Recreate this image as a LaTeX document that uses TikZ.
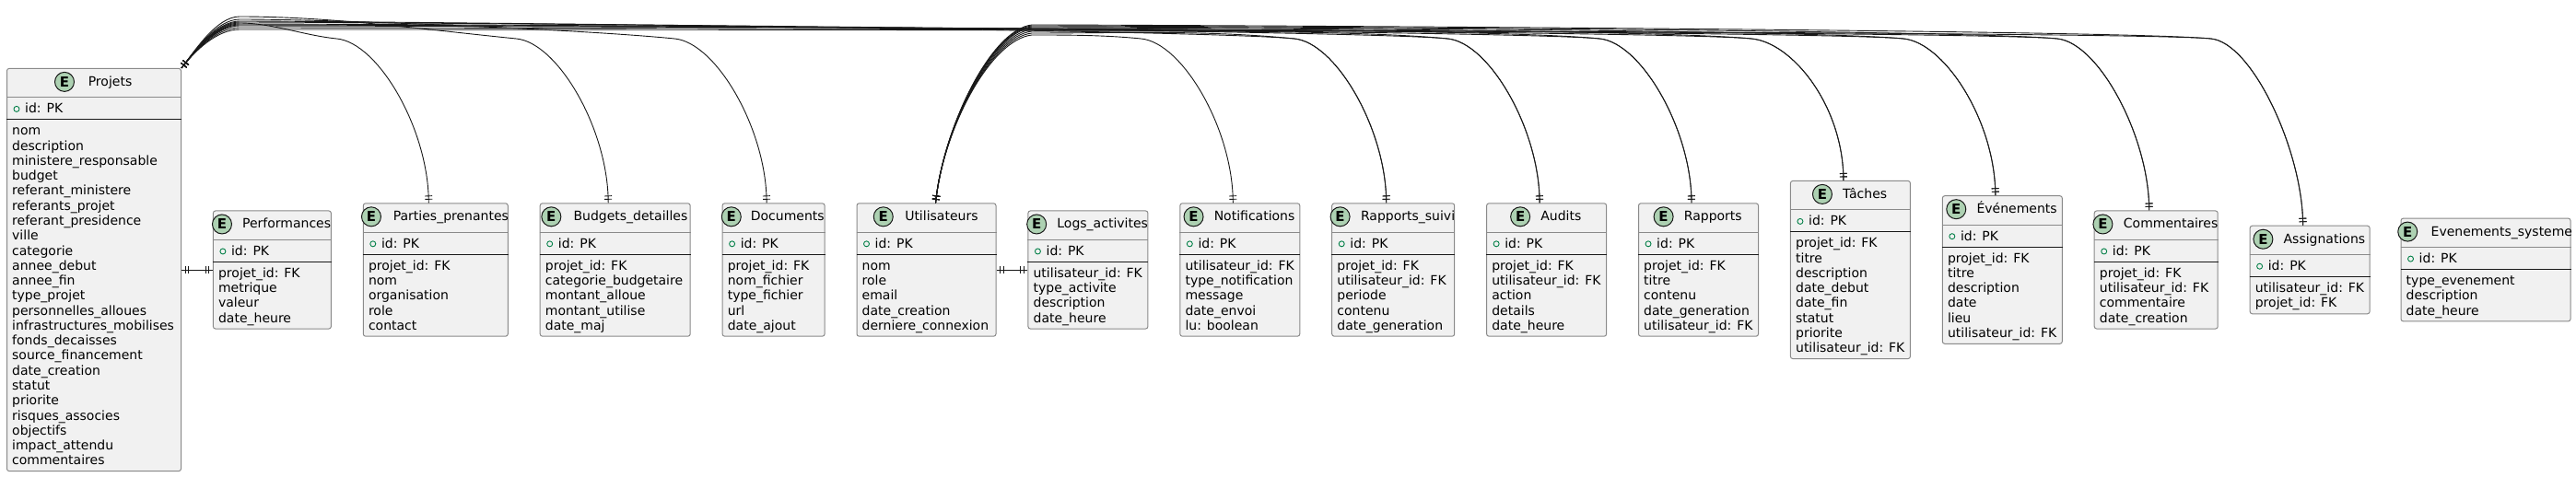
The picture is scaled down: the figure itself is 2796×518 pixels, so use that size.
\documentclass[tikz,border=0pt]{standalone}
\usepackage{fontspec}
\setmainfont{DejaVu Sans}
\usetikzlibrary{calc,decorations.markings}
\definecolor{boxfill}{HTML}{F1F1F1}
\definecolor{boxline}{HTML}{8A8A8A}
\definecolor{ink}{HTML}{181818}
\definecolor{ecirc}{HTML}{ADD1B2}
\definecolor{pkgreen}{HTML}{038048}
\newlength\etw
\tikzset{
  ebox/.style={draw=boxline, fill=boxfill, rounded corners=2.5pt, line width=1pt, inner sep=0pt},
  hsep/.style={draw=boxline, line width=1pt},
  isep/.style={draw=ink, line width=1pt},
  attr/.style={inner sep=0pt, font=\fontsize{14pt}{16.27pt}\selectfont, text=black},
  etitle/.style={inner sep=0pt, font=\fontsize{14pt}{16.27pt}\selectfont, text=black},
  ecircle/.style={circle, draw=ink, fill=ecirc, minimum size=21pt, inner sep=0pt, line width=1pt,
    font=\bfseries\fontsize{15pt}{15pt}\selectfont},
  pkdot/.style={circle, draw=pkgreen, minimum size=6pt, inner sep=0pt, line width=0.9pt},
  tickmark/.style={draw=ink, line width=0.9pt},
  rel/.style={draw=ink, line width=0.9pt, postaction={decorate, decoration={markings,
    mark=at position 4pt with {\draw[tickmark] (0,-4)--(0,4);},
    mark=at position 7.5pt with {\draw[tickmark] (0,-4)--(0,4);},
    mark=at position -4pt with {\draw[tickmark] (0,-4)--(0,4);},
    mark=at position -7.5pt with {\draw[tickmark] (0,-4)--(0,4);}}}},
}
\newcommand\entity[6]{%
  \settowidth\etw{\fontsize{14pt}{16.27pt}\selectfont #5}%
  \pgfmathsetmacro\ew{max(#3,\etw+31)}%
  \pgfmathsetmacro\eh{63+16.27*#4}%
  \pgfmathsetmacro\etop{292.5-\eh/2}%
  \node[ebox, minimum width=\ew pt, minimum height=\eh pt, anchor=north west] (#1) at (#2,\etop) {};
  \draw[hsep] ($(#1.north west)+(0,32)$) -- ($(#1.north east)+(0,32)$);
  \draw[isep] ($(#1.north west)+(0,56)$) -- ($(#1.north east)+(0,56)$);
  \pgfmathsetmacro\egap{5+0.06*(\ew-21-\etw)}%
  \node[etitle, anchor=base] (#1-t) at ({#2+\ew/2+(21+\egap)/2},{\etop+19.5}) {#5};
  \node[ecircle] (#1-c) at ($(#1-t.west |- #1.north)+({-\egap-10.5},15)$) {E};
  \node[pkdot] (#1-pk) at ({#2+11},{\etop+44.5}) {};
  \node[attr, anchor=base west] (#1-id) at ({#2+20},{\etop+49}) {id: PK};
  \foreach \eattr [count=\i] in {#6} {
    \node[attr, anchor=base west] (#1-a\i) at ({#2+6},{\etop+73+16.27*(\i-1)}) {\eattr};
  }
  \coordinate (#1-in) at ({#2+\ew/2-7},\etop);
  \coordinate (#1-bend) at ({#2+\ew/2-107},42);
  \pgfmathsetmacro\ebx{#2+\ew/2-107}%
  \expandafter\xdef\csname bx#1\endcsname{\ebx}%
}
\newcommand\projedge[2]{%
  \pgfmathsetmacro\ec{min(100,(\csname bx#1\endcsname-260)/3)}%
  \draw[rel] (Projets-out) .. controls +(14,-18) and +(-25,0) .. (260,#2)
    .. controls +(\ec,0) and +({-\ec},{-0.1*\ec}) .. (#1-bend)
    .. controls +(45,4) and +(0,-80) .. (#1-in);
}
\newcommand\useredge[2]{%
  \pgfmathsetmacro\ec{min(100,(\csname bx#1\endcsname-1120)/3)}%
  \draw[rel] (Utilisateurs-out) .. controls +(8,-80) and +(-45,5) .. (1120,#2)
    .. controls +(\ec,0) and +({-\ec},{-0.1*\ec}) .. (#1-bend)
    .. controls +(45,4) and +(0,-80) .. (#1-in);
}
\begin{document}
\begin{tikzpicture}[x=1pt,y=-1pt]
\useasboundingbox (0,0) rectangle (2796,518);
\entity{Projets}{7}{189}{23}{Projets}{nom,description,ministere\_responsable,budget,referant\_ministere,referants\_projet,referant\_presidence,ville,categorie,annee\_debut,annee\_fin,type\_projet,personnelles\_alloues,infrastructures\_mobilises,fonds\_decaisses,source\_financement,date\_creation,statut,priorite,risques\_associes,objectifs,impact\_attendu,commentaires}
\entity{Performances}{230.9}{128}{4}{Performances}{projet\_id: FK,metrique,valeur,date\_heure}
\entity{Parties}{393.8}{157}{5}{Parties\_prenantes}{projet\_id: FK,nom,organisation,role,contact}
\entity{Budgets}{585.7}{163}{5}{Budgets\_detailles}{projet\_id: FK,categorie\_budgetaire,montant\_alloue,montant\_utilise,date\_maj}
\entity{Documents}{783.6}{111}{5}{Documents}{projet\_id: FK,nom\_fichier,type\_fichier,url,date\_ajout}
\entity{Utilisateurs}{929.5}{151}{5}{Utilisateurs}{nom,role,email,date\_creation,derniere\_connexion}
\entity{Logs}{1115.4}{130}{4}{Logs\_activites}{utilisateur\_id: FK,type\_activite,description,date\_heure}
\entity{Notifications}{1280.3}{130}{5}{Notifications}{utilisateur\_id: FK,type\_notification,message,date\_envoi,lu: boolean}
\entity{RapportsSuivi}{1445.2}{133}{5}{Rapports\_suivi}{projet\_id: FK,utilisateur\_id: FK,periode,contenu,date\_generation}
\entity{Audits}{1613.1}{130}{5}{Audits}{projet\_id: FK,utilisateur\_id: FK,action,details,date\_heure}
\entity{Rapports}{1778}{130}{5}{Rapports}{projet\_id: FK,titre,contenu,date\_generation,utilisateur\_id: FK}
\entity{Taches}{1942.9}{130}{8}{Tâches}{projet\_id: FK,titre,description,date\_debut,date\_fin,statut,priorite,utilisateur\_id: FK}
\entity{Evenements}{2107.8}{130}{6}{Événements}{projet\_id: FK,titre,description,date,lieu,utilisateur\_id: FK}
\entity{Commentaires}{2272.7}{134}{4}{Commentaires}{projet\_id: FK,utilisateur\_id: FK,commentaire,date\_creation}
\entity{Assignations}{2441.6}{130}{2}{Assignations}{utilisateur\_id: FK,projet\_id: FK}
\entity{EvSysteme}{2605.5}{184}{3}{Evenements\_systeme}{type\_evenement,description,date\_heure}
\coordinate (Projets-out) at (Projets.north east);
\coordinate (Utilisateurs-out) at ($(Utilisateurs.north)+(10,0)$);
\draw[rel] (Projets.east) -- (Performances.west);
\draw[rel] (Utilisateurs.east) -- (Logs.west);
\projedge{Parties}{25}
\projedge{Budgets}{18}
\projedge{Documents}{21}
\projedge{RapportsSuivi}{23}
\projedge{Audits}{24}
\projedge{Rapports}{26}
\projedge{Taches}{27}
\projedge{Evenements}{28}
\projedge{Commentaires}{30}
\projedge{Assignations}{32}
\useredge{Notifications}{38}
\useredge{RapportsSuivi}{36}
\useredge{Audits}{34}
\useredge{Rapports}{32}
\useredge{Taches}{30}
\useredge{Evenements}{29}
\useredge{Commentaires}{28}
\useredge{Assignations}{27}
\end{tikzpicture}
\end{document}
